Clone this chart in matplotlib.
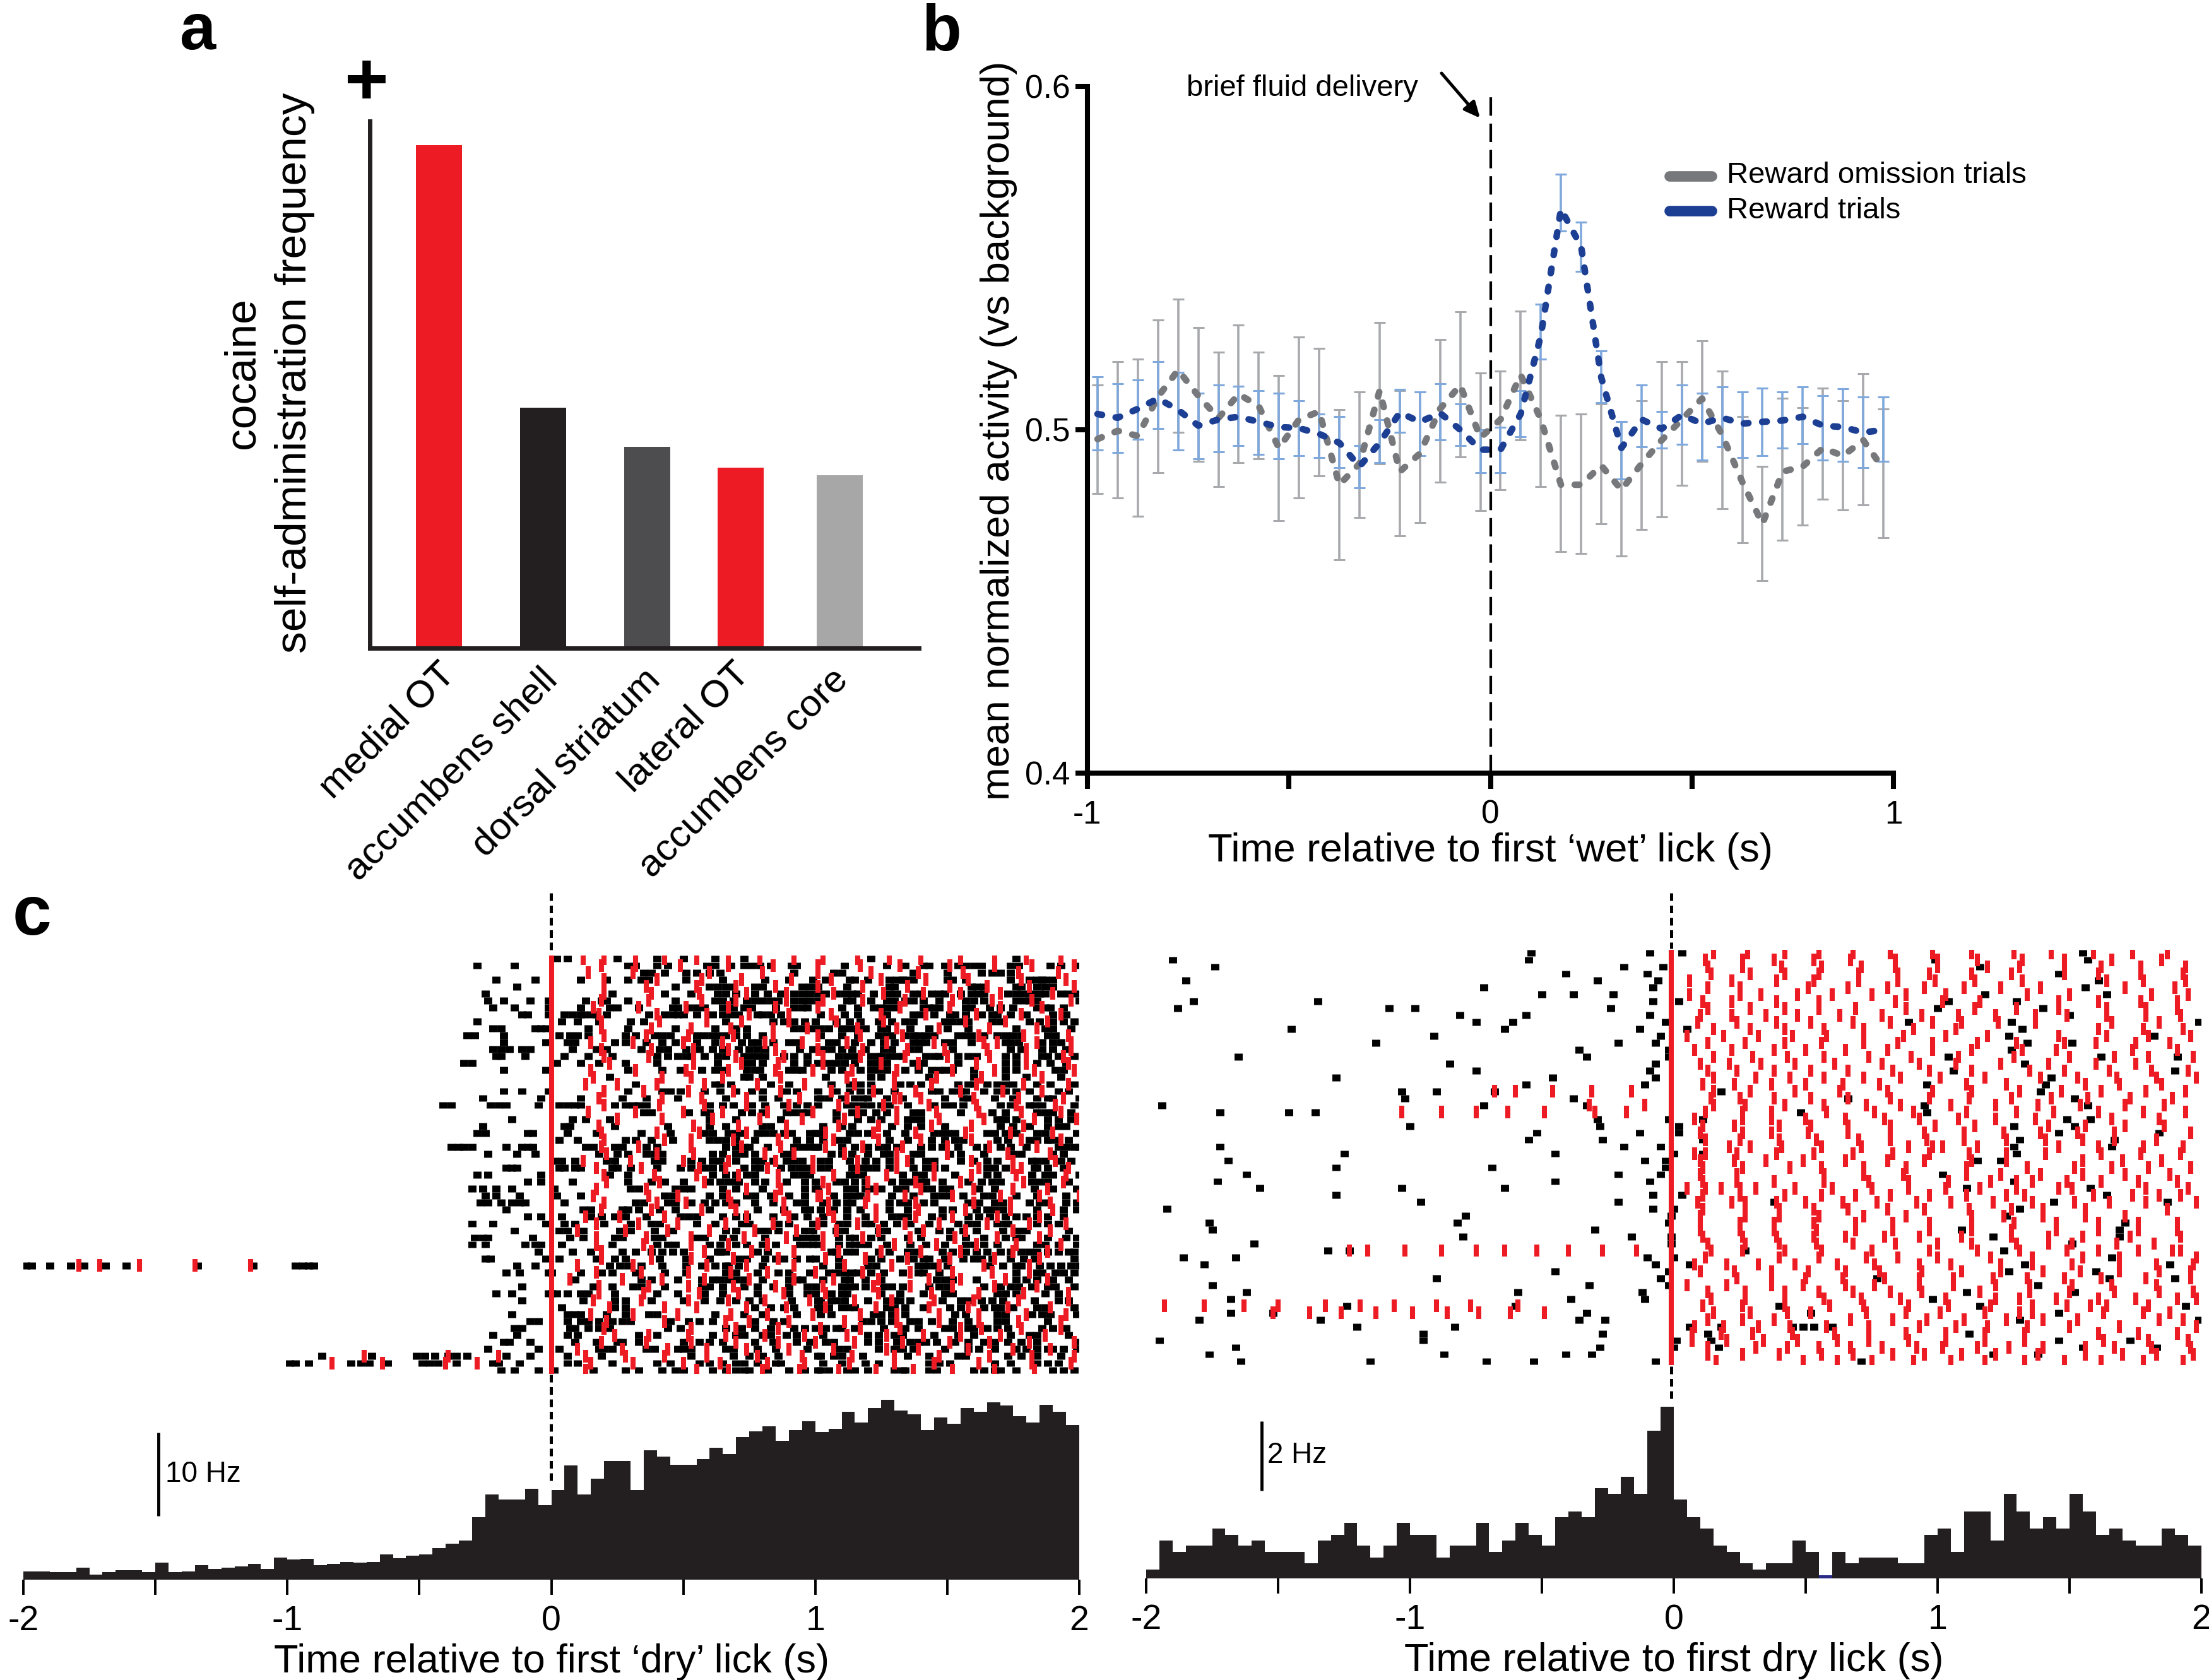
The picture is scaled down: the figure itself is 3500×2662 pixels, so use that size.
import matplotlib
matplotlib.use('Agg')
import matplotlib.pyplot as plt
import numpy as np
from matplotlib.lines import Line2D

plt.rcParams['font.family'] = ['Liberation Sans', 'DejaVu Sans']

W, H = 3500, 2662

# --- panel a ---
regions = ['medial OT', 'accumbens shell', 'dorsal striatum', 'lateral OT', 'accumbens core']
frequency = [95.4, 45.6, 38.2, 34.3, 32.8]

# --- panel b ---
bin_time = [-0.975, -0.925, -0.875, -0.825, -0.775, -0.725, -0.675, -0.625, -0.575, -0.525,
            -0.475, -0.425, -0.375, -0.325, -0.275, -0.225, -0.175, -0.125, -0.075, -0.025,
            0.025, 0.075, 0.125, 0.175, 0.225, 0.275, 0.325, 0.375, 0.425, 0.475,
            0.525, 0.575, 0.625, 0.675, 0.725, 0.775, 0.825, 0.875, 0.925, 0.975]
omit_mean = [.4973, .4997, .4982, .5096, .5174, .5099, .5034, .5104, .5069, .4947,
             .5030, .5053, .4840, .4901, .5114, .4878, .4931, .5061, .5130, .4977,
             .5030, .5160, .5030, .4840, .4840, .4896, .4825, .4901, .4970, .5030,
             .5091, .4985, .4848, .4726, .4878, .4893, .4947, .4924, .4970, .4886]
omit_hi = [.5130, .5198, .5206, .5320, .5381, .5297, .5226, .5305, .5226, .5159,
           .5271, .5238, .5058, .5111, .5313, .5114, .5110, .5262, .5343, .5165,
           .5171, .5346, .5206, .5043, .5046, .5076, .5023, .5084, .5198, .5198,
           .5259, .5171, .5038, .4893, .5091, .5064, .5122, .5084, .5163, .5061]
omit_lo = [.4814, .4802, .4748, .4875, .4992, .4909, .4835, .4905, .4915, .4735,
           .4802, .4866, .4622, .4744, .4901, .4691, .4729, .4848, .4921, .4764,
           .4825, .4970, .4835, .4645, .4640, .4726, .4633, .4709, .4747, .4838,
           .4909, .4771, .4671, .4561, .4678, .4723, .4797, .4767, .4782, .4686]
reward_mean = [.5046, .5035, .5061, .5091, .5058, .5012, .5030, .5038, .5023, .5008,
               .5005, .4988, .4962, .4893, .4962, .5050, .5023, .5049, .5000, .4942,
               .4942, .5046, .5274, .5643, .5534, .5152, .4947, .5030, .5003, .5043,
               .5018, .5035, .5018, .5023, .5027, .5038, .5012, .5008, .4992, .5000]
reward_hi = [.5155, .5134, .5145, .5198, .5168, .5107, .5130, .5127, .5114, .5107,
             .5085, .5046, .5038, .4954, .5030, .5117, .5111, .5134, .5076, .5000,
             .5008, .5114, .5366, .5744, .5605, .5229, .5023, .5131, .5053, .5130,
             .5107, .5125, .5110, .5122, .5110, .5125, .5099, .5119, .5095, .5095]
reward_lo = [.4942, .4934, .4973, .5003, .4942, .4916, .4936, .4954, .4928, .4916,
             .4924, .4919, .4889, .4831, .4905, .4992, .4924, .4970, .4954, .4875,
             .4875, .4980, .5206, .5579, .5462, .5079, .4857, .4950, .4947, .4957,
             .4912, .4951, .4919, .4924, .4947, .4959, .4912, .4909, .4890, .4909]

# --- panel c, histograms (Hz) ---
dry_rate = [1.01, 1.01, .89, .89, 1.44, .58, .89, 1.16, 1.16, .89,
            2.03, .89, 1.01, 1.72, 1.32, 1.44, 1.59, 1.87, 1.32, 2.63,
            2.41, 2.48, 1.72, 1.90, 2.15, 2.03, 2.15, 3.04, 2.61, 2.86,
            3.01, 3.75, 4.30, 4.71, 7.49, 10.23, 9.62, 9.62, 10.94, 8.91,
            10.76, 13.67, 10.20, 12.08, 14.25, 14.25, 10.76, 15.54, 14.76, 13.77,
            13.77, 14.43, 15.80, 15.06, 17.09, 17.80, 18.41, 16.66, 17.97, 18.99,
            17.72, 18.13, 20.15, 18.86, 20.56, 21.57, 20.30, 19.82, 17.97, 19.42,
            18.68, 20.58, 20.15, 21.29, 20.86, 19.59, 18.86, 20.96, 20.15, 18.56]
second_rate = [.26, 1.10, .77, .94, .94, 1.43, 1.26, .94, 1.10, .77,
               .77, .77, .43, 1.10, 1.26, 1.60, .94, .60, .94, 1.60,
               1.26, 1.26, .60, .94, .94, 1.60, .77, 1.10, 1.60, 1.26,
               .94, 1.76, 1.93, 1.76, 2.61, 2.44, 2.94, 2.44, 4.27, 4.95,
               2.28, 1.76, 1.43, .94, .77, .43, .26, .43, .43, 1.10,
               .77, .09, .77, .43, .60, .60, .60, .43, .43, 1.26,
               1.43, .77, 1.93, 1.93, 1.10, 2.44, 1.93, 1.43, 1.76, 1.43,
               2.44, 1.93, 1.26, 1.43, 1.10, .94, .94, 1.43, 1.26, .94]

# --- panel c, rasters: one list per trial, times in 1/100 s ---
left_black = [
    [2, 6, 25, 40, 50, 62, 73, 121, 176],
    [-28, -14, 29, 32, 40, 44, 59, 62, 68, 73, 76, 79, 83, 91, 93, 111, 127, 134, 141, 143, 149, 154, 157, 160, 163, 174, 177, 189, 193, 200],
    [35, 38, 43, 51, 55, 92, 107, 110, 137, 150, 163, 167, 170, 174],
    [-21, -6, 11, 21, 29, 34, 37, 51, 65, 81, 90, 99, 104, 113, 115, 120, 128, 131, 134, 137, 150, 152, 157, 174, 181, 184, 187, 190],
    [-13, 47, 60, 63, 77, 80, 95, 98, 101, 112, 128, 161, 164, 176, 184, 187, 190],
    [-25, 23, 43, 53, 63, 77, 82, 92, 95, 98, 101, 104, 108, 111, 114, 116, 122, 131, 137, 140, 144, 147, 149, 159, 162, 164, 173, 176, 179, 182, 185, 187, 193, 196],
    [-24, -18, -8, -1, 13, 19, 21, 29, 47, 62, 65, 69, 74, 77, 80, 92, 95, 98, 101, 112, 114, 121, 127, 130, 137, 141, 157, 160, 164, 176, 179, 181, 200],
    [-22, -14, -1, 11, 22, 25, 33, 46, 48, 52, 65, 69, 73, 76, 85, 92, 95, 97, 110, 116, 125, 127, 130, 141, 145, 147, 157, 159, 166, 175, 184, 189, 194],
    [-11, -9, -1, 5, 8, 11, 12, 15, 17, 21, 37, 43, 46, 48, 50, 61, 65, 68, 71, 78, 87, 102, 116, 137, 140, 145, 151, 153, 157, 167, 169, 174, 180, 195],
    [-28, 4, 10, 18, 30, 35, 84, 88, 96, 100, 113, 117, 124, 129, 134, 149, 152, 155, 167, 170, 181, 190, 194, 198],
    [-22, -19, -6, -4, -2, 14, 29, 47, 62, 92, 95, 99, 102, 105, 110, 113, 116, 119, 127, 143, 158, 190, 197],
    [-32, -29, -18, 3, 7, 10, 14, 28, 32, 39, 42, 45, 55, 58, 61, 63, 74, 80, 102, 110, 124, 127, 129, 137, 139, 142, 145, 154, 157, 159, 169, 172, 175, 178, 191],
    [-18, -2, 6, 9, 24, 28, 36, 42, 47, 55, 72, 76, 78, 90, 93, 105, 108, 121, 126, 137, 140, 142, 152, 159, 174, 177, 186, 193],
    [-22, -19, -16, -11, -8, 8, 17, 21, 34, 41, 44, 51, 61, 71, 75, 78, 81, 94, 99, 103, 106, 110, 114, 126, 129, 139, 174, 186, 190, 195],
    [-21, -19, -10, 5, 14, 23, 40, 44, 48, 51, 53, 63, 66, 73, 76, 78, 81, 92, 97, 109, 112, 115, 121, 125, 128, 131, 133, 142, 147, 154, 158, 161, 176, 186, 188, 192],
    [-33, -30, 2, 11, 18, 28, 40, 63, 80, 92, 97, 101, 105, 108, 111, 115, 121, 127, 137, 176, 184, 189],
    [-18, -2, 29, 42, 49, 57, 74, 77, 79, 90, 93, 95, 106, 110, 117, 121, 127, 134, 139, 144, 147, 149, 160, 176, 191],
    [22, 73, 121, 172, 193],
    [32, 64, 68, 90, 106, 117, 121, 132, 140, 154, 158, 160, 169, 172, 175, 184, 189, 198],
    [-18, -11, -1, 29, 42, 45, 49, 58, 76, 80, 89, 93, 101, 108, 113, 117, 121, 130, 144, 147, 152, 157, 164, 169, 172, 181, 192, 196],
    [-26, -4, 11, 27, 36, 48, 86, 101, 102, 105, 110, 115, 120, 127, 149, 156, 168, 175, 184, 190, 200],
    [-41, -38, -23, -20, -17, -5, 3, 6, 9, 11, 24, 28, 31, 33, 36, 60, 65, 69, 76, 81, 88, 93, 97, 101, 112, 115, 118, 121, 128, 135, 145, 149, 152, 170, 174, 181, 183, 198],
    [35, 38, 52, 58, 72, 76, 89, 92, 95, 97, 108, 114, 123, 127, 137, 155, 167, 184, 190, 197],
    [-15, 8, 13, 22, 87, 108, 121, 125, 135, 137, 169, 171, 176, 192, 197],
    [-26, 5, 7, 24, 44, 80, 83, 103, 114, 129, 135, 149, 175, 181, 188, 192],
    [-28, -25, -9, -7, 6, 17, 34, 45, 58, 61, 67, 70, 72, 78, 81, 84, 98, 100, 101, 102, 116, 120, 127, 145, 148, 150, 153, 165, 172, 176, 184, 199],
    [3, 10, 28, 32, 38, 46, 63, 77, 93, 98, 103, 112, 135, 149, 153, 156, 169, 181, 184, 188, 192, 196],
    [-38, -35, -33, -30, -17, -11, -9, -7, 13, 16, 24, 27, 36, 40, 66, 73, 82, 92, 95, 98, 100, 101, 110, 115, 120, 127, 131, 144, 148, 154, 161, 165, 170, 180, 192, 195, 198, 200],
    [-24, -13, -6, 18, 25, 29, 36, 39, 42, 61, 65, 77, 88, 91, 110, 114, 120, 126, 137, 140, 151, 164, 178, 190],
    [1, 4, 9, 21, 24, 39, 42, 53, 57, 61, 77, 80, 89, 92, 95, 102, 105, 119, 123, 128, 142, 145, 155, 165, 169, 182, 187, 193, 197],
    [-17, -15, -13, 3, 5, 9, 11, 23, 25, 30, 40, 49, 53, 58, 61, 73, 77, 79, 87, 91, 94, 97, 102, 105, 114, 118, 123, 128, 137, 142, 149, 168, 172, 183, 184, 188],
    [-28, -24, -4, 22, 29, 61, 66, 77, 92, 95, 98, 113, 118, 133, 138, 153, 169, 182, 187, 200],
    [-9, -4, 8, 29, 38, 43, 50, 64, 67, 71, 77, 81, 89, 96, 100, 111, 115, 119, 129, 133, 136, 142, 148, 163, 167, 170, 182, 185, 196],
    [-30, -26, -21, -15, 1, 30, 33, 47, 50, 53, 65, 80, 96, 100, 101, 112, 115, 119, 125, 131, 134, 144, 148, 151, 162, 183, 199],
    [-25, -21, -12, 2, 11, 43, 46, 74, 77, 83, 96, 107, 112, 117, 129, 145, 148, 151, 156, 164, 176, 195],
    [-27, -24, -19, -15, -12, -10, 5, 32, 35, 44, 47, 53, 58, 62, 77, 84, 93, 96, 103, 112, 114, 132, 135, 141, 145, 162, 168, 171, 181, 185, 195, 199],
    [-17, 12, 15, 27, 29, 33, 41, 47, 78, 96, 98, 102, 112, 117, 135, 148, 161, 165, 168, 171, 194, 199],
    [-9, -4, 4, 15, 19, 24, 28, 36, 49, 52, 55, 65, 84, 97, 103, 119, 129, 135, 144, 148, 158, 162, 166, 176, 180, 184, 188, 194],
    [-30, -22, -2, 5, 9, 20, 30, 38, 41, 55, 62, 72, 75, 99, 103, 112, 119, 121, 126, 131, 143, 154, 161, 169, 172, 173, 184, 188, 192],
    [-14, 3, 6, 12, 26, 30, 39, 46, 79, 82, 86, 96, 99, 111, 127, 139, 147, 151, 161, 171, 177, 196],
    [-29, -26, -24, -7, 7, 12, 24, 27, 39, 42, 55, 58, 65, 69, 81, 95, 98, 113, 115, 121, 125, 140, 151, 157, 164, 172, 178, 188, 195, 199],
    [-30, -25, -10, -6, -4, 4, 23, 40, 44, 47, 60, 74, 80, 85, 94, 97, 99, 101, 109, 113, 115, 117, 127, 142, 149, 157, 164, 169, 187, 192, 199],
    [-5, 8, 15, 27, 32, 38, 42, 46, 50, 64, 66, 106, 112, 115, 124, 135, 138, 148, 157, 161, 165, 170, 174, 178, 181, 184, 192, 196, 198],
    [-25, -23, -2, 3, 17, 24, 28, 41, 51, 60, 71, 74, 81, 85, 93, 98, 121, 132, 137, 141, 143, 149, 156, 160, 163, 174, 179, 183],
    [-199, -197, -190, -182, -177, -169, -161, -134, -113, -97, -94, -92, -90, -13, -6, 22, 26, 29, 34, 42, 51, 57, 62, 67, 71, 103, 123, 139, 142, 145, 171, 176, 178, 185, 189, 193, 197, 200],
    [-17, -12, -1, 0, 11, 19, 23, 32, 43, 51, 78, 86, 90, 98, 105, 108, 111, 114, 116, 121, 133, 139, 141, 176, 184, 191, 194, 198],
    [9, 34, 38, 48, 57, 61, 64, 67, 73, 90, 93, 95, 111, 113, 119, 146, 149, 161, 176, 180, 190, 196],
    [-11, 16, 23, 31, 34, 43, 57, 65, 73, 78, 90, 97, 100, 110, 113, 115, 119, 129, 133, 147, 150, 164, 170, 174, 177, 188, 191, 198],
    [-21, -15, -1, 0, 2, 6, 11, 14, 24, 40, 48, 65, 78, 90, 97, 110, 112, 132, 141, 149, 169, 172, 187, 192],
    [-11, 12, 24, 28, 38, 50, 58, 64, 75, 80, 91, 101, 102, 108, 111, 120, 127, 132, 136, 148, 155, 158, 167, 171, 183, 192],
    [4, 24, 28, 77, 83, 101, 102, 105, 110, 115, 127, 134, 141, 151, 164, 168, 170, 175, 184, 198],
    [-15, 6, 9, 11, 21, 28, 37, 40, 62, 93, 106, 122, 129, 134, 157, 169, 172, 186, 189, 199],
    [-8, -5, 6, 11, 14, 18, 23, 27, 30, 45, 52, 56, 61, 77, 84, 121, 125, 129, 139, 144, 152, 169, 172],
    [-14, -11, 7, 9, 14, 18, 22, 44, 49, 72, 77, 83, 92, 96, 100, 104, 108, 110, 134, 139, 149, 152, 158, 160, 169, 173, 186, 190],
    [-22, -13, 6, 10, 33, 40, 61, 73, 80, 83, 89, 93, 120, 124, 133, 145, 160, 174, 181, 196],
    [-18, -16, -8, 9, 17, 25, 27, 33, 50, 56, 60, 77, 84, 93, 98, 104, 107, 124, 131, 136, 142, 146, 153, 158, 164, 168, 173, 184, 200],
    [-24, -5, 3, 18, 20, 23, 36, 39, 48, 50, 53, 66, 69, 85, 97, 109, 124, 130, 137, 149, 162, 168, 176, 180, 184, 188, 194, 199],
    [-87, -68, -51, -48, -44, -39, -36, -32, -17, -8, 6, 19, 53, 69, 86, 101, 102, 107, 110, 143, 157, 173, 178, 193],
    [-99, -97, -92, -76, -72, -69, -62, -49, -46, -43, -36, -22, -20, -12, 6, 10, 23, 40, 45, 56, 70, 73, 78, 85, 87, 110, 119, 143, 151, 174, 184, 188, 192],
    [-19, -14, -5, 1, 16, 28, 33, 42, 47, 50, 61, 73, 75, 82, 90, 96, 101, 102, 105, 115, 120, 130, 133, 134, 146, 160, 164, 170, 176, 190, 194],
]
# second pass over the same raster, same trials
left_black_more = [
    [], [],
    [60, 64],
    [133, 186],
    [130, 159, 178, 66, 69],
    [128, 155, 199, 66, 70, 87],
    [134, 147, 184, 83, 86],
    [122, 143, 170, 187, 55, 58],
    [111, 127, 163, 190, 55, 80, 83],
    [108, 137, 158, 185, 92, 66],
    [125, 136, 150, 176, 187, 70, 74],
    [116, 134, 164, 188, 66, 70],
    [115, 130, 149, 172, 190, 84, 62],
    [119, 136, 152, 178, 56, 65],
    [124, 145, 172, 198, 58, 88],
    [124, 141, 154, 172, 195, 73, 76],
    [124, 152, 172, 194, 62, 65],
    [104, 125, 143, 160, 180, 75, 80],
    [113, 136, 165, 62, 83],
    [124, 155, 176, 64, 70],
    [118, 133, 158, 188, 66, 80],
    [125, 156, 186],
    [118, 140, 172, 187, 60, 80],
    [116, 140, 172, 188, 60, 70],
    [110, 140, 170, 195, 60, 66],
    [113, 134, 168, 187, 88, 91],
    [109, 128, 144, 173, 189, 60, 66, 70],
    [124, 140, 174, 66, 70, 75],
    [106, 128, 155, 175, 194, 70, 73],
    [113, 136, 160, 184, 64, 70, 84],
    [120, 145, 165, 194, 65],
    [115, 141, 165, 190, 70, 74],
    [108, 140, 158, 188, 60, 70],
    [122, 141, 168, 190, 70],
    [115, 137, 167, 184, 60, 65, 90],
    [108, 128, 158, 188, 70, 66],
    [107, 128, 152, 184, 60, 88],
    [112, 132, 172, 74, 70, 92],
    [109, 136, 158, 86, 90],
    [108, 124, 156, 180, 66, 70],
    [109, 135, 176, 93, 100],
    [120, 136, 160, 184, 64, 70],
    [108, 128, 152, 188, 63, 78, 82],
    [109, 125, 167, 198, 100, 88],
    [109, 120, 150, 166, 66, 80],
    [126, 147, 186, 70, 66],
    [103, 125, 152, 184, 70, 80],
    [126, 143, 182, 60, 84],
    [106, 125, 152, 176, 100, 58],
    [106, 130, 163, 196, 70],
    [113, 130, 155, 187, 88, 92],
    [102, 125, 153, 182, 73, 80],
    [118, 136, 158, 188, 88],
    [115, 126, 165, 195, 66],
    [103, 130, 154, 184, 70],
    [120, 139, 178, 65],
    [112, 133, 158, 190, 78],
    [118, 135, 154, 184, 75, 80],
    [103, 124, 147, 168, 60, 65],
    [112, 143, 168, 198, 66, 70],
]
left_red = [
    [12, 20, 32, 43, 55, 67, 79, 92, 103, 116, 128, 140, 155, 168, 180, 193],
    [19, 32, 49, 67, 84, 101, 117, 132, 151, 168, 182, 198],
    [14, 31, 60, 80, 101, 121, 139, 156, 177, 192],
    [20, 40, 57, 72, 91, 106, 125, 142, 158, 178, 195],
    [20, 36, 55, 70, 85, 101, 118, 135, 151, 165, 181, 198],
    [20, 38, 56, 74, 89, 107, 126, 141, 155, 170, 190],
    [19, 37, 57, 70, 89, 103, 118, 134, 152, 167, 182, 197],
    [16, 33, 51, 67, 85, 101, 132, 151, 170, 186],
    [18, 40, 59, 75, 90, 106, 125, 142, 161, 178, 193],
    [19, 41, 59, 72, 90, 108, 126, 157, 172, 188],
    [19, 38, 53, 68, 84, 97, 116, 131, 147, 166, 184],
    [20, 36, 52, 69, 84, 101, 117, 133, 162, 179, 196],
    [15, 31, 50, 65, 81, 95, 112, 127, 145, 164, 169, 184, 197],
    [19, 38, 54, 67, 85, 101, 118, 135, 149, 165, 180, 197],
    [20, 37, 54, 70, 88, 103, 117, 134, 150, 166, 180, 194],
    [22, 54, 72, 86, 103, 125, 139, 161, 180, 196],
    [15, 32, 51, 67, 85, 99, 114, 131, 152, 168, 183, 198],
    [16, 42, 53, 65, 87, 112, 130, 146, 163, 186],
    [13, 25, 40, 58, 78, 96, 115, 130, 144, 161, 179, 196],
    [20, 35, 52, 69, 87, 106, 122, 138, 155, 171, 186],
    [18, 42, 57, 74, 94, 112, 130, 132, 140, 160, 177, 194],
    [20, 41, 58, 74, 90, 109, 126, 143, 161, 176, 191],
    [14, 32, 50, 65, 82, 99, 116, 131, 146, 162, 178, 193],
    [25, 42, 61, 79, 95, 111, 131, 147, 164, 183, 199],
    [18, 54, 71, 89, 109, 124, 144, 159, 179],
    [19, 40, 56, 74, 89, 104, 122, 138, 157, 174, 190],
    [20, 43, 53, 69, 86, 107, 124, 140, 159, 178, 193],
    [19, 33, 53, 72, 87, 104, 118, 133, 150, 166, 184],
    [21, 40, 54, 81, 92, 111, 131, 150, 173, 189],
    [12, 30, 50, 67, 85, 99, 116, 131, 135, 159, 175, 191],
    [17, 34, 56, 66, 82, 99, 116, 131, 145, 162, 175, 178, 196],
    [20, 39, 55, 71, 86, 107, 127, 145, 159, 176, 195],
    [21, 41, 58, 86, 103, 120, 138, 155, 179, 194],
    [17, 36, 74, 87, 105, 123, 140, 160, 175, 188],
    [16, 37, 48, 67, 85, 101, 102, 120, 134, 152, 170, 185, 200],
    [20, 40, 51, 68, 88, 105, 119, 138, 160, 174, 189],
    [19, 38, 57, 70, 88, 105, 123, 139, 157, 174, 190],
    [13, 26, 43, 74, 90, 107, 123, 138, 152, 169, 185],
    [17, 33, 48, 66, 84, 101, 116, 134, 147, 165, 181, 195],
    [10, 28, 44, 60, 77, 93, 108, 124, 141, 157, 175, 189],
    [17, 36, 53, 73, 89, 103, 118, 136, 153, 169, 185],
    [17, 35, 53, 67, 82, 103, 130, 146, 161, 176, 193],
    [19, 38, 58, 76, 92, 109, 125, 140, 155, 175, 188],
    [19, 38, 53, 69, 86, 104, 119, 135, 151, 168, 185],
    [-179, -171, -156, -135, -114, 10, 31, 59, 74, 92, 111, 129, 147, 164, 181],
    [17, 34, 52, 68, 82, 100, 118, 136, 152, 167, 181],
    [7, 27, 42, 58, 75, 92, 107, 124, 143, 155, 172, 188],
    [18, 37, 52, 69, 85, 103, 122, 136, 152, 168, 184],
    [18, 35, 56, 71, 88, 104, 124, 144, 162, 179, 196],
    [16, 34, 52, 67, 81, 98, 115, 129, 145, 160, 177, 196],
    [22, 43, 55, 74, 89, 104, 123, 143, 158, 173, 189],
    [15, 31, 48, 68, 82, 99, 117, 131, 147, 162, 180, 195],
    [21, 43, 66, 75, 90, 111, 131, 147, 162, 177, 193],
    [20, 53, 70, 86, 102, 117, 132, 155, 163, 178, 193],
    [24, 37, 52, 66, 81, 96, 112, 127, 141, 155, 170, 187],
    [19, 36, 53, 70, 86, 100, 115, 133, 151, 166, 181, 198],
    [10, 27, 44, 59, 74, 90, 107, 127, 139, 158, 175, 189],
    [-71, -39, -20, 13, 28, 43, 59, 78, 95, 114, 130, 147, 166, 182, 198],
    [-83, -64, -40, -28, 15, 31, 50, 64, 82, 96, 113, 130, 145, 162, 182, 197],
    [13, 55, 67, 80, 94, 109, 123, 137, 152, 168, 183],
]
right_black = [
    [-54, -9, 3, 155], [-190, -55, 99, 157], [-174, -19, -4, 116], [-41, -10, 146], [-185, -29, -6, 161],
    [-72, -8, 156], [-50, -38, -23, 118, 164], [-182, -135, -8, 2, 104, 130], [-188, -108, -98, -24, 100, 140], [-81, -56, -9, 150],
    [-75, -61, -3, 89, 128, 199], [-145, -64, -13, 5, 132], [-91, -5, 127, 182], [-113, -21, -7, 134, 151], [-36, -2, 128],
    [-165, -33, -2, 104, 162, 191], [-85, -7, 133], [-75, -9, 106, 190], [-128, -46, -7, 143], [-56, -11, 96, 141],
    [-103, -90, -68, 18, 139], [-102, -38, 66, 152], [-194, -72, -33, 95, 157], [-172, -146, -136, 48, 96], [-29, -2, 11, 149, 158],
    [-100, -28, 2, 129, 152], [-52, -13, 2, 146, 184], [-55, -27, 11, 131, 167], [-172, -19, -5, 129, 166], [-125, -45, 0, 11, 130],
    [-169, -11, -3, 115, 124], [-128, -69, -3], [-162, -21, -5, 102], [-173, -45, -9, 129], [-157, -103, -64, 111, 158],
    [-128, -8, 3, 164], [-96, -21, 38, 144, 187], [-192, -8, 0, 131], [-79, -1, 126], [-176, -82, -2, 171],
    [-175, -30, 109, 169], [-80, -16, -1, 121, 169], [-159, -1, 151], [-131, -123, 27, 125], [-186, -166, -10, 0, 166],
    [-178, -7, 6, 133, 188], [-45, -2, 127, 160], [-90, -5, 77, 165, 190], [-175, -32, -2, 138], [-162, -59, -12, 111, 152],
    [-168, -39, -11, 98], [-124, -60, 40, 116, 194], [-168, -152, -33, 52, 146], [-180, -134, -36, -26, 131, 199], [-120, -83, 6, 18, 45, 49, 53, 60],
    [-95, -27, 13, 112], [-195, -95, 1, 14, 146, 173], [-166, -28, 0, 17, 155, 183], [-176, -87, -41, -31, 121, 138], [-164, -115, -71, -53, -7, 71],
]
right_red = [
    [15, 28, 42, 55, 68, 82, 98, 113, 129, 143, 159, 174, 187],
    [12, 26, 38, 53, 67, 84, 100, 115, 132, 148, 166, 185],
    [13, 26, 41, 56, 71, 84, 100, 119, 131, 148, 162, 177, 194],
    [14, 29, 42, 55, 70, 85, 97, 113, 128, 148, 161, 177, 193],
    [6, 22, 39, 53, 70, 85, 99, 114, 132, 164, 178, 194],
    [13, 25, 51, 66, 81, 95, 110, 124, 139, 171, 190],
    [6, 25, 33, 47, 60, 75, 88, 103, 134, 150, 181, 195],
    [11, 22, 39, 55, 84, 102, 116, 146, 161, 177, 191],
    [13, 29, 42, 55, 69, 88, 114, 130, 146, 164, 179, 191],
    [10, 22, 35, 47, 63, 79, 94, 108, 122, 137, 149, 164, 179, 192],
    [9, 24, 39, 52, 68, 82, 98, 109, 123, 137, 166, 184],
    [15, 29, 42, 57, 72, 91, 107, 161, 178, 193],
    [5, 19, 32, 45, 58, 72, 87, 103, 119, 146, 164, 180, 196],
    [13, 27, 42, 56, 72, 85, 98, 115, 130, 148, 160, 175, 188],
    [8, 22, 38, 50, 65, 81, 98, 113, 132, 145, 174, 191],
    [15, 30, 43, 57, 74, 90, 108, 129, 150, 167, 180, 197],
    [10, 21, 33, 46, 61, 79, 93, 107, 124, 142, 160, 175],
    [13, 24, 38, 52, 66, 83, 97, 113, 135, 148, 165, 181, 195],
    [15, 31, 44, 57, 72, 86, 101, 118, 139, 153, 168, 183, 198],
    [11, 23, 37, 50, 64, 78, 111, 126, 156, 169, 185],
    [-68, -60, -46, -31, -16, 15, 29, 46, 63, 81, 98, 113, 131, 147, 162, 179, 194],
    [14, 25, 38, 52, 66, 82, 97, 112, 128, 143, 157, 173, 189],
    [-32, -11, 15, 27, 42, 57, 73, 86, 105, 122, 138, 154, 171, 186],
    [-103, -88, -75, -63, -49, -30, -18, 12, 26, 37, 58, 76, 91, 111, 130, 144, 161, 178, 194],
    [8, 26, 37, 50, 65, 80, 93, 108, 122, 137, 166, 184],
    [11, 23, 40, 52, 66, 82, 99, 114, 142, 156, 171, 186],
    [10, 26, 37, 51, 66, 82, 95, 110, 125, 139, 153, 167, 196],
    [12, 25, 40, 54, 70, 82, 96, 110, 126, 141, 155, 167, 183],
    [21, 29, 41, 56, 71, 89, 98, 102, 115, 146, 161, 178, 193],
    [8, 12, 24, 39, 53, 68, 83, 97, 112, 126, 141, 162, 177, 192],
    [10, 23, 35, 49, 65, 81, 95, 113, 126, 155, 170, 185],
    [11, 26, 44, 56, 72, 88, 111, 134, 152, 166, 180, 196],
    [10, 24, 57, 72, 87, 111, 124, 139, 155, 171, 188],
    [11, 24, 38, 57, 74, 89, 104, 120, 130, 136, 149, 162, 176, 191],
    [5, 12, 18, 25, 31, 46, 60, 75, 89, 103, 116, 130, 146, 151, 179, 195],
    [11, 25, 42, 56, 69, 82, 97, 111, 126, 133, 159, 174, 184, 192],
    [9, 22, 27, 39, 50, 64, 77, 92, 105, 121, 136, 152, 165, 179, 198],
    [11, 27, 40, 53, 66, 81, 95, 112, 128, 140, 156, 187],
    [10, 27, 40, 55, 72, 88, 113, 125, 140, 156, 171],
    [10, 25, 38, 53, 69, 83, 97, 113, 129, 145, 161, 176, 191],
    [10, 25, 38, 54, 69, 83, 97, 113, 128, 145, 161, 176, 191],
    [11, 26, 39, 53, 65, 80, 93, 109, 128, 142, 155, 173, 192],
    [13, 27, 40, 54, 68, 84, 100, 113, 130, 142, 151, 168, 182],
    [-123, -116, -102, -88, -75, -64, -52, -40, -27, -14, 14, 26, 42, 56, 75, 97, 115, 131, 149, 161, 176, 189, 192],
    [12, 40, 55, 73, 85, 100, 120, 136, 155, 169, 198],
    [8, 20, 32, 46, 62, 76, 93, 105, 124, 136, 151, 169, 183, 197],
    [10, 23, 37, 51, 65, 78, 94, 109, 124, 140, 154, 169, 184, 196],
    [24, 37, 50, 64, 80, 93, 106, 121, 134, 148, 162, 179, 196],
    [5, 20, 37, 49, 65, 76, 93, 106, 122, 135, 151, 166, 183],
    [13, 27, 42, 55, 68, 82, 94, 116, 135, 150, 167, 184, 197],
    [14, 27, 42, 57, 71, 86, 103, 122, 131, 145, 161, 175, 191, 198],
    [-193, -178, -163, -150, -132, -119, -106, -90, -77, -59, 11, 26, 42, 59, 72, 89, 104, 120, 136, 149, 158, 164, 180],
    [-152, -138, -126, -113, -99, -86, -74, -62, -49, 15, 29, 43, 52, 73, 88, 101, 118, 131, 136, 163, 178, 188],
    [13, 26, 38, 67, 83, 96, 110, 126, 140, 153, 184, 193],
    [8, 19, 32, 44, 58, 74, 93, 107, 119, 134, 150, 169, 198],
    [7, 18, 30, 45, 61, 74, 88, 103, 118, 133, 161, 176, 191],
    [7, 20, 34, 47, 62, 74, 89, 103, 118, 133, 163, 180, 195],
    [13, 31, 43, 55, 67, 79, 92, 102, 115, 127, 140, 156, 167, 181, 196],
    [13, 26, 40, 56, 68, 83, 95, 109, 122, 138, 156, 170, 183, 197],
    [16, 49, 62, 75, 91, 105, 118, 133, 148, 162, 178, 193],
]

RED = '#ED1C24'
DARK = '#231F20'


def add_axes_px(x0, y0, x1, y1):
    # rectangle given in picture pixels, y going down
    return fig.add_axes([x0 / W, 1 - y1 / H, (x1 - x0) / W, (y1 - y0) / H])


def fig_text(x, y, s, **kw):
    kw.setdefault('ha', 'center')
    kw.setdefault('va', 'center')
    fig.text(x / W, 1 - y / H, s, **kw)


def fig_line(xs, ys, **kw):
    fig.add_artist(Line2D([x / W for x in xs], [1 - y / H for y in ys],
                          transform=fig.transFigure, **kw))


def raster(ax, black, red, zero):
    trials = list(range(len(black)))
    ax.eventplot([np.array(t) / 100 for t in black], lineoffsets=trials, linelengths=0.98,
                 linewidths=9.3, colors='black', capstyle='butt')
    ax.eventplot([np.array(t) / 100 for t in red], lineoffsets=trials, linelengths=1.8,
                 linewidths=5.8, colors=RED, capstyle='butt')
    ax.plot([zero, zero], [-0.9, 59.9], color=RED, lw=5.8, solid_capstyle='butt')
    ax.set_xlim(-2, 2)
    ax.set_ylim(59.5, -0.5)
    ax.axis('off')


def hist(ax, rates, top, label):
    edges = np.linspace(-2, 2, len(rates) + 1)
    ax.bar(edges[:-1], rates, width=edges[1] - edges[0], align='edge', color=DARK, linewidth=0)
    ax.set_xlim(-2, 2)
    ax.set_ylim(0, top)
    for s in ['top', 'left', 'right', 'bottom']:
        ax.spines[s].set_visible(False)
    ax.set_yticks([])
    ax.set_xticks(np.arange(-2, 2.5, 0.5))
    ax.set_xticklabels(['-2', '', '-1', '', '0', '', '1', '', '2'])
    ax.tick_params(axis='x', direction='out', length=17, width=2.8, pad=12, labelsize=40)
    ax.patch.set_alpha(0)
    ax.set_xlabel(label, fontsize=45.5, labelpad=6)


fig = plt.figure(figsize=(W / 100, H / 100), dpi=100)

# panel a
ax_a = add_axes_px(586, 192, 1456, 1027)
bar_x = [109, 274, 439, 587, 744]
bar_colors = [RED, DARK, '#4D4D4F', RED, '#A7A7A8']
ax_a.bar(bar_x, frequency, width=73, color=bar_colors, linewidth=0)
ax_a.set_xlim(0, 870)
ax_a.set_ylim(0, 100)
ax_a.set_xticks([])
ax_a.set_yticks([])
for s in ['top', 'right']:
    ax_a.spines[s].set_visible(False)
for s in ['left', 'bottom']:
    ax_a.spines[s].set_linewidth(5)
    ax_a.spines[s].set_color(DARK)
label_end = [(693, 1040), (855, 1049), (1018, 1049), (1160, 1040), (1316, 1049)]
for name, (x, y) in zip(regions, label_end):
    fig_text(x, y, name, ha='right', va='top', rotation=45, rotation_mode='anchor', fontsize=43.5)
fig_text(384, 591, 'cocaine', rotation=90, fontsize=50)
fig_text(467, 591, 'self-administration frequency', rotation=90, fontsize=50)
fig_text(581, 134, '+', fontsize=86, fontweight='bold')

# panel b
ax_b = add_axes_px(1723, 137, 3000, 1225)
ax_b.errorbar(bin_time, omit_mean,
              yerr=[np.array(omit_mean) - np.array(omit_lo), np.array(omit_hi) - np.array(omit_mean)],
              fmt='none', ecolor='#A7A9AC', elinewidth=2.6, capsize=6.5, capthick=2.2)
ax_b.errorbar(bin_time, reward_mean,
              yerr=[np.array(reward_mean) - np.array(reward_lo), np.array(reward_hi) - np.array(reward_mean)],
              fmt='none', ecolor='#7FA8DC', elinewidth=2.6, capsize=6.5, capthick=2.2)
ax_b.plot(bin_time, omit_mean, color='#77787B', lw=7.5, linestyle=(0, (0.7, 2.1)), dash_capstyle='round')
ax_b.plot(bin_time, reward_mean, color='#1C3F94', lw=7.5, linestyle=(0, (0.7, 2.1)), dash_capstyle='round')
ax_b.plot([0, 0], [0.4, 0.5983], color='black', lw=3, linestyle=(0, (7, 3)))
ax_b.set_xlim(-1, 1)
ax_b.set_ylim(0.4, 0.6)
for s in ['top', 'right']:
    ax_b.spines[s].set_visible(False)
for s in ['left', 'bottom']:
    ax_b.spines[s].set_linewidth(5.8)
ax_b.set_yticks([0.4, 0.5, 0.6])
ax_b.set_yticklabels(['0.4', '0.5', '0.6'], fontsize=37)
ax_b.set_xticks([-1, -0.5, 0, 0.5, 1])
ax_b.set_xticklabels(['-1', '', '0', '', '1'], fontsize=37)
ax_b.tick_params(axis='y', direction='out', length=14, width=5.8, pad=6)
ax_b.tick_params(axis='x', direction='out', length=18, width=5.8, pad=12)
fig_text(1582, 682, 'mean normalized activity (vs background)', rotation=90, fontsize=45.7)
fig_text(2362, 1348, 'Time relative to first \u2018wet\u2019 lick (s)', fontsize=45.7)
fig_text(1880, 140, 'brief fluid delivery', ha='left', fontsize=34)
ax_b.annotate('', xy=(2345 / W, 1 - 187 / H), xytext=(2284 / W, 1 - 116 / H),
              xycoords='figure fraction', textcoords='figure fraction',
              arrowprops=dict(arrowstyle='-|>,head_length=1.5,head_width=0.7', color='black', lw=3.6, shrinkA=0, shrinkB=0))
fig_line([2645, 2712], [279, 279], color='#77787B', lw=12, solid_capstyle='round')
fig_line([2645, 2712], [334, 334], color='#1C3F94', lw=12, solid_capstyle='round')
fig_text(2736, 278, 'Reward omission trials', ha='left', fontsize=34)
fig_text(2736, 334, 'Reward trials', ha='left', fontsize=34)

# panel c, rasters
ax_c1 = add_axes_px(37, 1513.5, 1710, 2176.5)
raster(ax_c1, [a + b for a, b in zip(left_black, left_black_more)], left_red, 0)
ax_c2 = add_axes_px(1816, 1504.5, 3488, 2162.5)
raster(ax_c2, right_black, right_red, -0.01)

# panel c, histograms
ax_h1 = add_axes_px(37, 2186, 1710, 2503)
hist(ax_h1, dry_rate, 24, 'Time relative to first \u2018dry\u2019 lick (s)')
ax_h1.plot([-1.489, -1.489], [7.65, 17.65], color='black', lw=3.5, solid_capstyle='butt')
ax_h2 = add_axes_px(1816, 2199, 3488, 2501)
hist(ax_h2, second_rate, 5.5, 'Time relative to first dry lick (s)')
ax_h2.patches[51].set_facecolor('#2A2A86')
ax_h2.plot([-1.562, -1.562], [2.53, 4.53], color='black', lw=3.5, solid_capstyle='butt')
fig_text(262, 2336, '10 Hz', ha='left', fontsize=33)
fig_text(2008, 2306, '2 Hz', ha='left', fontsize=33)

dash = dict(color='black', lw=3.6, linestyle=(0, (2.4, 1.5)))
fig_line([873, 873], [1415, 1512], **dash)
fig_line([873, 873], [2178, 2350], **dash)
fig_line([2648, 2648], [1415, 1503], **dash)
fig_line([2648, 2648], [2165, 2222], **dash)

fig_text(314, 78, 'a', fontsize=74, fontweight='bold', va='baseline')
fig_text(1492, 80, 'b', fontsize=74, fontweight='bold', va='baseline')
fig_text(50, 1481, 'c', fontsize=80, fontweight='bold', va='baseline')

fig.savefig('out.png', dpi=100)
